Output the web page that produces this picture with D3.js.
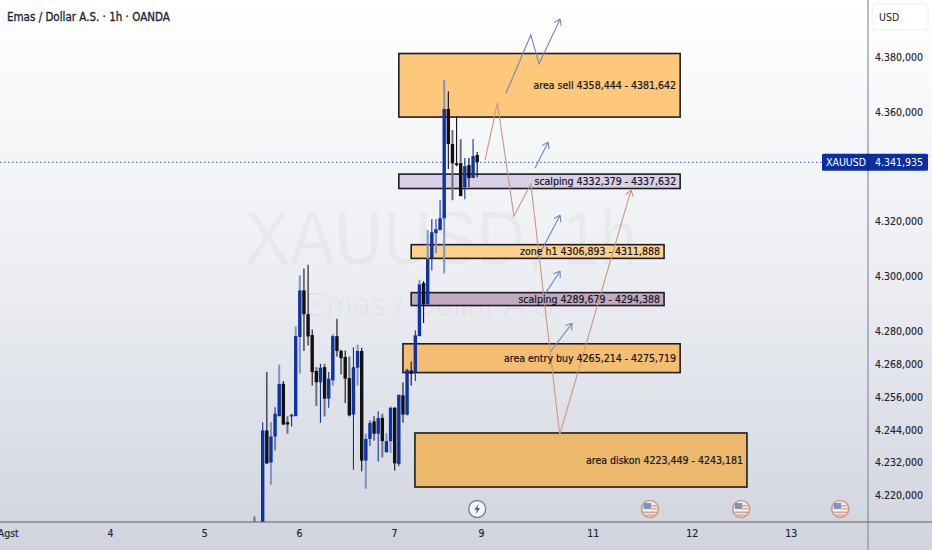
<!DOCTYPE html>
<html>
<head>
<meta charset="utf-8">
<script src="https://cdn.jsdelivr.net/npm/d3@7"></script>
<style>
html, body { margin: 0; padding: 0; background: #fff; overflow: hidden; }
text { font-family: "DejaVu Sans", sans-serif; }
</style>
</head>
<body>
<div id="vis"></div>
<script>
// hourly candles, first one is index -2
var opens = [4205, 4190, 4205, 4244.1, 4232.4, 4241.9, 4249.3, 4261.1, 4247.1, 4249.2, 4249.3, 4278.2, 4295.2, 4286.5, 4278.9, 4265.8, 4261.7, 4267.2, 4255.7, 4262.4, 4278.5, 4273.1, 4270.9, 4263.2, 4249.9, 4267, 4273.1, 4233.1, 4241, 4247.4, 4242.9, 4248.7, 4236.2, 4240.2, 4252.4, 4231.9, 4256.9, 4249.9, 4266, 4265.4, 4278.5, 4297.9, 4290.1, 4306.9, 4316.1, 4317.2, 4321.5, 4361.4, 4348.6, 4341.6, 4341.6, 4332.9, 4340.9, 4336.2, 4344.6];
var highs = [4212.7, 4205, 4247.1, 4265.4, 4247.1, 4252.6, 4268.1, 4262.1, 4249.3, 4250.2, 4282.1, 4300.7, 4303.2, 4304.6, 4280.9, 4267.2, 4268.4, 4268.4, 4265.4, 4279.2, 4284.9, 4273.6, 4273.3, 4271.1, 4274.5, 4275.4, 4274.3, 4242.9, 4247.7, 4249.3, 4251.1, 4250.2, 4243.1, 4252.8, 4252.6, 4257.1, 4261.7, 4266.6, 4269.3, 4280.6, 4299.1, 4298.6, 4317.2, 4321.2, 4321.2, 4328.1, 4372, 4367.9, 4353.7, 4358.8, 4350.4, 4343.5, 4343.5, 4350.4, 4345.7];
var lows = [4200, 4185, 4200, 4231.9, 4224.3, 4236.8, 4249.3, 4246, 4242.9, 4245.5, 4249.3, 4264.8, 4273.1, 4275.1, 4260.5, 4253, 4246.9, 4249.2, 4252.4, 4260.5, 4271.1, 4264.5, 4254.1, 4249.2, 4229.8, 4260.5, 4229.2, 4222.8, 4238.4, 4240.4, 4232.8, 4234.3, 4235.9, 4235.9, 4229.5, 4231, 4246.9, 4249.6, 4260.5, 4262.1, 4278.5, 4283.3, 4290.1, 4302.5, 4308.8, 4317.2, 4301.4, 4339.4, 4328.1, 4340.5, 4329.6, 4328.5, 4332.9, 4336.2, 4336.5];
var closes = [4204, 4195, 4244.1, 4232.1, 4241.9, 4250.2, 4261.1, 4246.3, 4246.3, 4249.8, 4278.5, 4295.2, 4286.5, 4278.4, 4265.4, 4261.7, 4267, 4255.7, 4263, 4278.5, 4273.1, 4270.5, 4263, 4249.6, 4267.2, 4273.1, 4233.1, 4241, 4246.8, 4242.9, 4248.6, 4240.2, 4240.2, 4252.4, 4232.1, 4257.1, 4249.9, 4266.2, 4264.8, 4278.8, 4297.4, 4290.1, 4306.6, 4316.4, 4317.5, 4321.5, 4361.4, 4348.6, 4341.6, 4340.9, 4329.6, 4340.5, 4336.2, 4344.2, 4341.935];
var fadedWicks = [-2, 2, 4, 6, 8, 9, 13, 15, 17, 19, 21, 23, 25, 27, 29, 30, 31, 34, 38, 40, 42, 44, 46, 48];

var priceTicks = [4380, 4360, 4320, 4300, 4280, 4268, 4256, 4244, 4232, 4220];
var dayTicks = [-61.8, -37, -14.2, 8.8, 31.8, 52.9, 80, 104, 128];
var dayLabels = ["Agst", "4", "5", "6", "7", "9", "11", "12", "13"];
var lastPrice = 4341.935;

var zoneNames = ["area sell", "scalping", "zone h1", "scalping", "area entry buy", "area diskon"];
var zoneLabels = ["4358,444 - 4381,642", "4332,379 - 4337,632", "4306,893 - 4311,888", "4289,679 - 4294,388", "4265,214 - 4275,719", "4223,449 - 4243,181"];
var zoneLows = [4358.444, 4332.379, 4306.893, 4289.679, 4265.214, 4223.449];
var zoneHighs = [4381.642, 4337.632, 4311.888, 4294.388, 4275.719, 4243.181];
var zoneStarts = [33, 33, 36, 36, 34, 36.9];
var zoneEnds = [101.2, 101.2, 97.3, 97.3, 101.2, 117.4];
var zoneColors = ["#fdc87c", "#d9d0e8", "#fdd08c", "#c0aabf", "#f4be72", "#ecb96c"];

var sellPath = [[53.9, 4342.7], [56.9, 4363.6], [60.9, 4322.3], [65, 4334.1], [72, 4242.6], [89.3, 4331.8]];
var upPaths = [
    [[59, 4367.2], [65, 4388.4], [67, 4377.8], [72.1, 4394.2]],
    [[66, 4339.8], [69.2, 4349.3]],
    [[66.7, 4307.3], [72.1, 4322.6]],
    [[68.2, 4293.4], [72.1, 4302.2]],
    [[69.8, 4272.9], [75, 4283.2]]
];

var eventDays = [52, 93.9, 116, 140];
var eventKinds = ["bolt", "flag", "flag", "flag"];

var width = 932;
var height = 550;
var chartRight = 868;
var chartBottom = 522;
var blue = "#0f33a3";
var black = "#111114";

var svg = d3.select("#vis").append("svg").attr("width", width).attr("height", height).style("display", "block");
var defs = svg.append("defs");

var bg = defs.append("linearGradient").attr("id", "bg").attr("x1", 0).attr("y1", 0).attr("x2", 0).attr("y2", 1);
bg.append("stop").attr("offset", "0%").attr("stop-color", "#ffffff");
bg.append("stop").attr("offset", "50%").attr("stop-color", "#eceef2");
bg.append("stop").attr("offset", "100%").attr("stop-color", "#d0d4de");
defs.append("clipPath").attr("id", "plot").append("rect").attr("width", chartRight).attr("height", chartBottom);

var x = d3.scaleLinear().domain([0, 100]).range([262.7, 675.2]);
var y = d3.scaleLinear().domain([4220, 4380]).range([496.5, 58]);
var priceFormat = d3.formatLocale({ decimal: ",", thousands: ".", grouping: [3], currency: ["", ""] }).format(",.3f");

svg.append("rect").attr("width", width).attr("height", height).attr("fill", "url(#bg)");

function drawWatermark() {
    svg.append("text").attr("x", 245).attr("y", 264)
        .attr("font-size", 76).style("font-family", "'Liberation Sans'")
        .attr("textLength", 392).attr("lengthAdjust", "spacingAndGlyphs")
        .attr("fill", "#000").attr("fill-opacity", 0.03).text("XAUUSD, 1h");
    svg.append("text").attr("x", 305).attr("y", 316)
        .attr("font-size", 34).style("font-family", "'Liberation Sans'")
        .attr("textLength", 258).attr("lengthAdjust", "spacingAndGlyphs")
        .attr("fill", "#000").attr("fill-opacity", 0.03).text("Emas / Dollar A.S.");
}

function drawZones() {
    var g = svg.append("g");
    zoneNames.forEach(function (name, i) {
        g.append("rect")
            .attr("x", x(zoneStarts[i]))
            .attr("y", y(zoneHighs[i]))
            .attr("width", x(zoneEnds[i]) - x(zoneStarts[i]))
            .attr("height", y(zoneLows[i]) - y(zoneHighs[i]))
            .attr("fill", zoneColors[i])
            .attr("stroke", "#1f1d24")
            .attr("stroke-width", 1.6);
    });
}

function drawZoneLabels() {
    var g = svg.append("g");
    zoneNames.forEach(function (name, i) {
        g.append("text")
            .attr("x", x(zoneEnds[i]) - 4)
            .attr("y", (y(zoneHighs[i]) + y(zoneLows[i])) / 2 + 3.5)
            .attr("text-anchor", "end")
            .attr("font-size", 10.5)
            .style("font-stretch", "condensed")
            .attr("fill", "#14141e")
            .attr("stroke", "#14141e")
            .attr("stroke-width", 0.2)
            .text(name + " " + zoneLabels[i]);
    });
}

function drawCandles() {
    var g = svg.append("g").attr("clip-path", "url(#plot)");
    d3.range(-2, 53).forEach(function (hour, i) {
        var up = closes[i] >= opens[i];
        var faded = fadedWicks.indexOf(hour) >= 0;
        var wick = faded ? (up ? "#7f93c4" : "#6f6f7a") : (up ? blue : black);
        g.append("line")
            .attr("x1", x(hour)).attr("x2", x(hour))
            .attr("y1", y(highs[i])).attr("y2", y(lows[i]))
            .attr("stroke", wick)
            .attr("stroke-width", faded ? 2 : 1.1);
        var top = Math.max(opens[i], closes[i]);
        var bottom = Math.min(opens[i], closes[i]);
        g.append("rect")
            .attr("x", x(hour) - 1.7)
            .attr("y", y(top))
            .attr("width", 3.4)
            .attr("height", Math.max(y(bottom) - y(top), 1))
            .attr("fill", hour == -2 ? "#6f6f7a" : (up ? blue : black));
    });
}

function drawArrowPath(points, color) {
    var line = d3.line().x(function (d) { return x(d[0]); }).y(function (d) { return y(d[1]); });
    svg.append("path").attr("d", line(points)).attr("fill", "none")
        .attr("stroke", color).attr("stroke-width", 1.1);
    // open arrow head on the last segment
    var a = points[points.length - 2];
    var b = points[points.length - 1];
    var angle = Math.atan2(y(b[1]) - y(a[1]), x(b[0]) - x(a[0]));
    var tipX = x(b[0]);
    var tipY = y(b[1]);
    [-0.6, 0.6].forEach(function (turn) {
        svg.append("line")
            .attr("x1", tipX).attr("y1", tipY)
            .attr("x2", tipX - 7 * Math.cos(angle + turn))
            .attr("y2", tipY - 7 * Math.sin(angle + turn))
            .attr("stroke", color).attr("stroke-width", 1.1);
    });
}

function drawPriceLine() {
    svg.append("line").attr("x1", 0).attr("x2", 822)
        .attr("y1", y(lastPrice)).attr("y2", y(lastPrice))
        .attr("stroke", "#3d4f9f").attr("stroke-width", 1).attr("stroke-dasharray", "1.5 2.5");
}

function darkLabel(sel) {
    sel.attr("font-size", 10.5).style("font-family", "'DejaVu Sans'")
        .style("font-stretch", "condensed").attr("fill", "#22222e")
        .attr("stroke", "#22222e").attr("stroke-width", 0.15);
}

function drawAxes() {
    svg.append("line").attr("x1", chartRight).attr("x2", chartRight).attr("y1", 0).attr("y2", height)
        .attr("stroke", "#8c8ca8").attr("stroke-width", 1.2);
    svg.append("line").attr("x1", 0).attr("x2", width).attr("y1", chartBottom).attr("y2", chartBottom)
        .attr("stroke", "#6f5a63").attr("stroke-width", 1);

    var right = svg.append("g").attr("transform", "translate(875,-1)")
        .call(d3.axisRight(y).tickValues(priceTicks).tickSize(0).tickPadding(0).tickFormat(priceFormat));
    right.select(".domain").remove();
    darkLabel(right.selectAll("text"));

    var bottom = svg.append("g").attr("transform", "translate(0," + chartBottom + ")")
        .call(d3.axisBottom(x).tickValues(dayTicks).tickSize(0).tickPadding(8)
            .tickFormat(function (d, i) { return dayLabels[i]; }));
    bottom.select(".domain").remove();
    darkLabel(bottom.selectAll("text"));

    // currency button and last price tag
    svg.append("rect").attr("x", 872).attr("y", 4).attr("width", 56).attr("height", 26).attr("rx", 4)
        .attr("fill", "#fff").attr("stroke", "#efeff3");
    svg.append("text").attr("x", 879).attr("y", 21).attr("font-size", 10.5).style("font-stretch", "condensed")
        .attr("fill", "#22222e").text("USD");

    svg.append("rect").attr("x", 822).attr("y", y(lastPrice) - 8.5).attr("width", 106).attr("height", 17).attr("rx", 1.5)
        .attr("fill", "#0b2f9f");
    svg.append("line").attr("x1", chartRight).attr("x2", chartRight).attr("y1", y(lastPrice) - 8.5).attr("y2", y(lastPrice) + 8.5)
        .attr("stroke", "#0a2580");
    svg.append("text").attr("x", 826).attr("y", y(lastPrice) + 4).attr("font-size", 10.5).style("font-stretch", "condensed")
        .attr("fill", "#fff").text("XAUUSD");
    svg.append("text").attr("x", 875).attr("y", y(lastPrice) + 4).attr("font-size", 10.5).style("font-stretch", "condensed")
        .attr("fill", "#fff").text(priceFormat(lastPrice));
}

function drawEvents() {
    eventDays.forEach(function (day, i) {
        var g = svg.append("g").attr("transform", "translate(" + x(day) + ",509)");
        if (eventKinds[i] == "bolt") {
            g.append("circle").attr("r", 8.5).attr("fill", "#f7f7fa").attr("stroke", "#7b78a6").attr("stroke-width", 1.3);
            g.append("path").attr("d", "M1.5,-5 L-3,0.8 L-0.2,0.8 L-1.5,5 L3,-0.8 L0.2,-0.8 Z").attr("fill", "#55536f");
        } else {
            g.append("circle").attr("r", 8.5).attr("fill", "#f3eeee").attr("stroke", "#c99c8e").attr("stroke-width", 1.6);
            g.append("rect").attr("x", -6.5).attr("y", -6).attr("width", 7.5).attr("height", 6).attr("fill", "#8191c4");
            g.append("rect").attr("x", 1).attr("y", -4).attr("width", 5.5).attr("height", 1.5).attr("fill", "#d9a493");
            g.append("rect").attr("x", 1).attr("y", -1).attr("width", 6.5).attr("height", 1.5).attr("fill", "#e0b27a");
            g.append("rect").attr("x", -7).attr("y", 2.5).attr("width", 14).attr("height", 1.6).attr("fill", "#d9a493");
            g.append("rect").attr("x", -5.5).attr("y", 5.5).attr("width", 11).attr("height", 1.4).attr("fill", "#d9a493");
        }
    });
}

function drawTitle() {
    svg.append("text").attr("x", 7).attr("y", 21).attr("font-size", 11.5)
        .style("font-stretch", "condensed")
        .attr("fill", "#1b1f33").attr("stroke", "#1b1f33").attr("stroke-width", 0.3)
        .text("Emas / Dollar A.S. · 1h · OANDA");
}

function main() {
    drawWatermark();
    drawPriceLine();
    drawZones();
    drawCandles();
    drawArrowPath(sellPath, "#c9977e");
    upPaths.forEach(function (p) { drawArrowPath(p, "#6f86bd"); });
    drawZoneLabels();
    drawEvents();
    drawAxes();
    drawTitle();
}

main();
</script>
</body>
</html>
